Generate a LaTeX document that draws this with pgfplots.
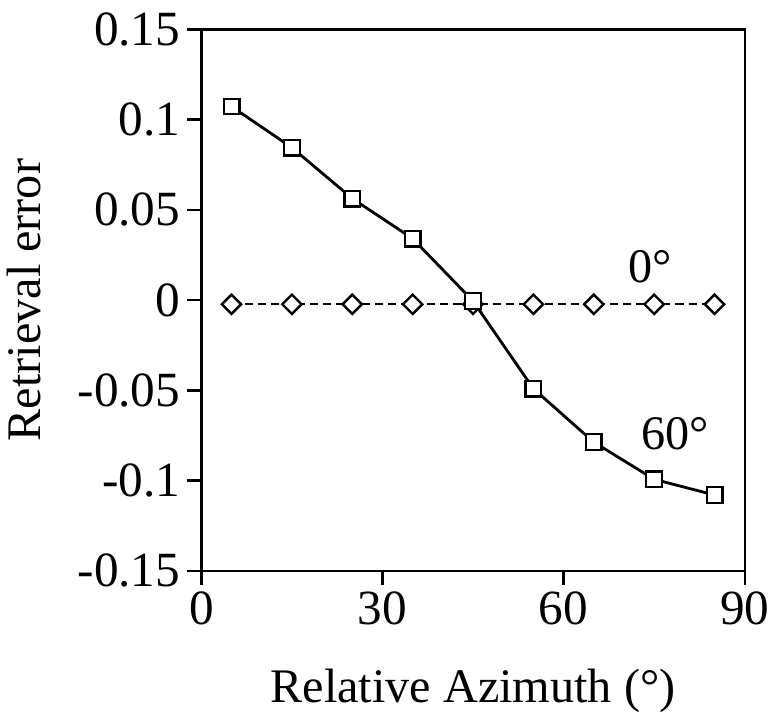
\documentclass[border=0pt]{standalone}
\usepackage{pgfplots}
\pgfplotsset{compat=1.18}
\usepackage{fontspec}
\setmainfont{Liberation Serif}
\begin{document}
\begin{tikzpicture}
\begin{axis}[
 width=270.5pt, height=269.5pt, scale only axis,
 xmin=0, xmax=90, ymin=-0.15, ymax=0.15,
 xtick={0,30,60,90}, xticklabels={0,30,60,90},
 ytick={-0.15,-0.1,-0.05,0,0.05,0.1,0.15},
 yticklabels={-0.15,-0.1,-0.05,0,0.05,0.1,0.15},
 xtick pos=bottom, ytick pos=left, tick align=outside,
 major tick length=7pt,
 axis line style={line width=1.2pt},
 every tick/.style={line width=1.2pt, black},
 tick label style={font=\fontsize{24.5}{28}\selectfont},
 label style={font=\fontsize{24}{28}\selectfont},
 xlabel={Relative Azimuth (°)},
 ylabel={Retrieval error},
 xlabel style={at={(axis description cs:0.5,-0.222)}, anchor=center},
 ylabel style={at={(axis description cs:-0.327,0.5)}, anchor=center},
 clip=false,
]
\addplot[black, line width=0.9pt, dash pattern=on 4pt off 2.5pt,
  mark=square*, mark size=3.4pt,
  mark options={solid, fill=white, line width=1.2pt, rotate=45}]
  coordinates {(5,-0.0023)(15,-0.0023)(25,-0.0023)(35,-0.0023)(45,-0.0023)(55,-0.0023)(65,-0.0023)(75,-0.0023)(85,-0.0023)};
\addplot[black, line width=1.4pt, mark=square*, mark size=3.9pt,
  mark options={fill=white, line width=1.15pt}]
  coordinates {(5,0.1073)(15,0.0845)(25,0.0563)(35,0.0341)(45,-0.0005)(55,-0.0491)(65,-0.0787)(75,-0.0993)(85,-0.108)};
\node[font=\fontsize{24}{28}\selectfont] at (axis cs:74.4,0.0186) {0°};
\node[font=\fontsize{24}{28}\selectfont] at (axis cs:78.5,-0.074) {60°};
\end{axis}
\path ([yshift=3pt]current bounding box.north);
\end{tikzpicture}
\end{document}
